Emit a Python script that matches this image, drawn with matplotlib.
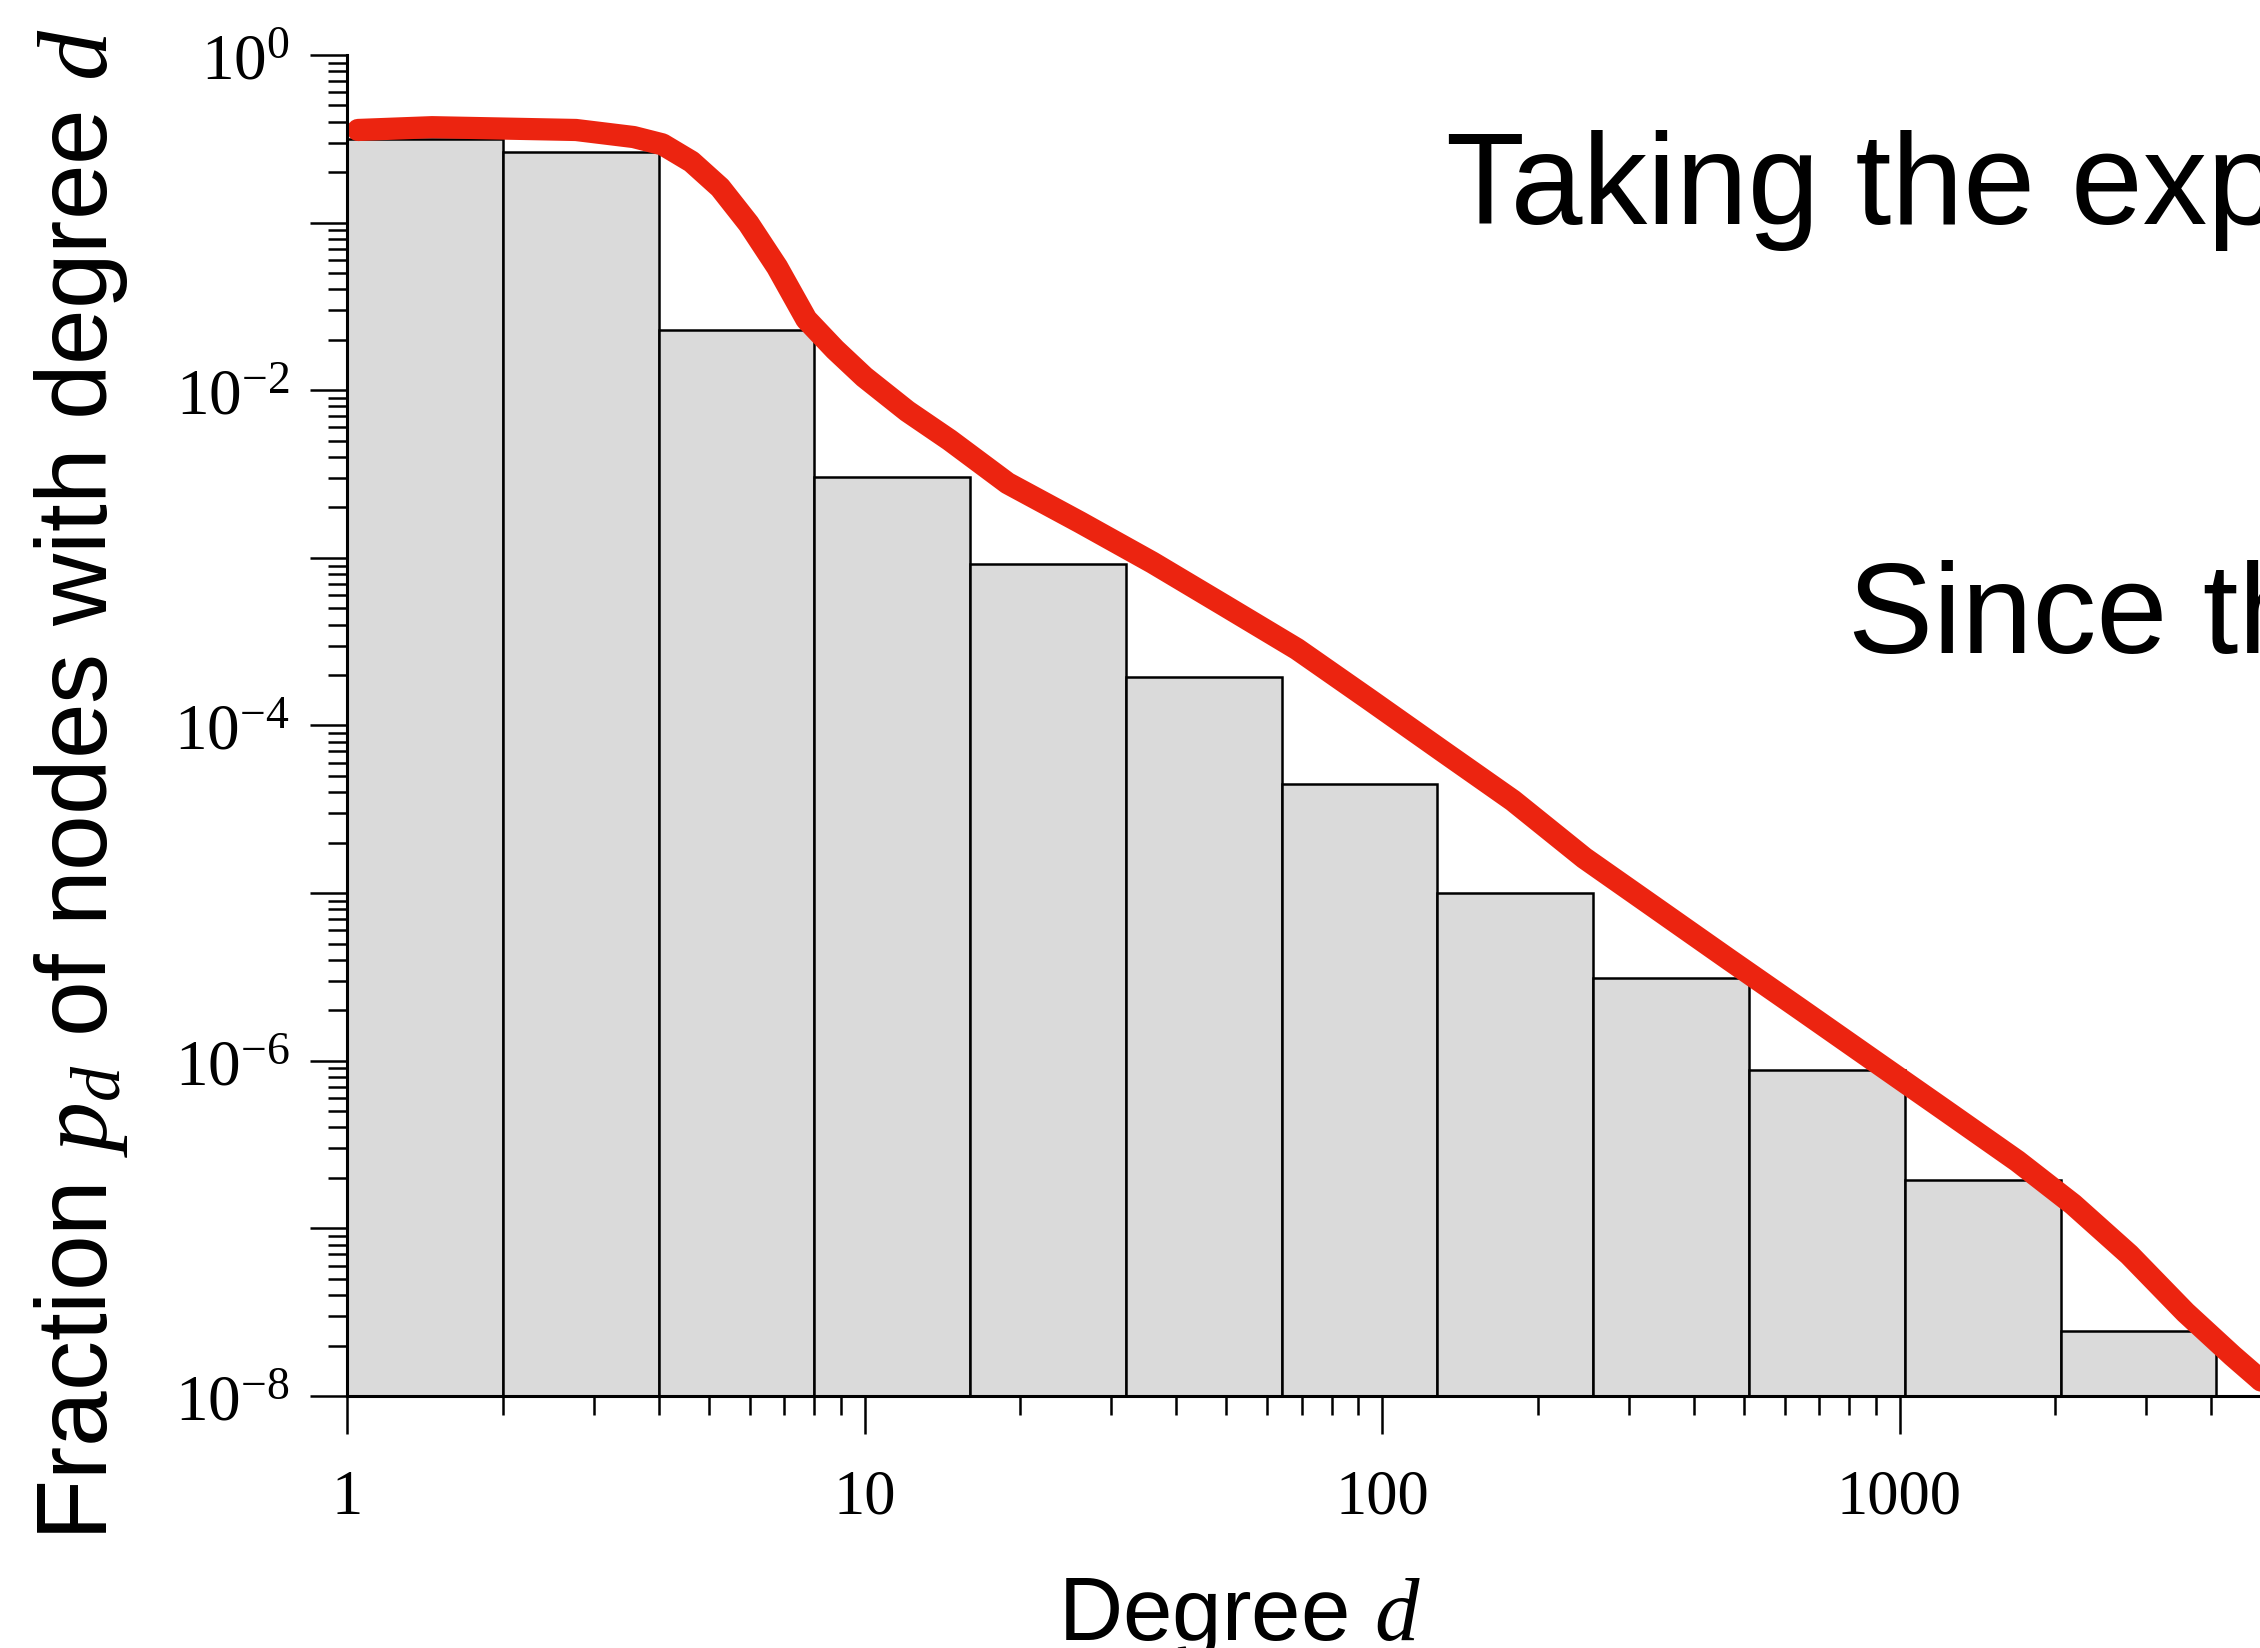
import numpy as np
import matplotlib
matplotlib.use("Agg")
import matplotlib.pyplot as plt
from matplotlib.ticker import LogLocator, FixedLocator, NullFormatter, FuncFormatter

plt.rcParams['font.family'] = ['Liberation Sans', 'DejaVu Sans']
plt.rcParams['mathtext.fontset'] = 'custom'
plt.rcParams['mathtext.rm'] = 'Liberation Serif'
plt.rcParams['mathtext.it'] = 'Liberation Serif:italic'

# histogram bins (powers of two) and bar heights
bin_edges = [1, 2, 4, 8, 16, 32, 64, 128, 256, 512, 1024, 2048, 4096]
bar_heights = [0.317, 0.265, 0.0228, 0.00302, 9.2e-4, 1.96e-4, 4.5e-5,
               1.0e-5, 3.1e-6, 8.8e-7, 1.95e-7, 2.44e-8]

# red curve
curve_d = [1.05, 1.46, 2.01, 2.77, 3.58, 4.07, 4.63, 5.26, 5.97, 6.78, 7.72,
           8.77, 9.99, 12.1, 14.6, 18.9, 26.1, 36.0, 49.7, 68.5, 94.5, 130,
           179, 246, 339, 467, 645, 889, 1226, 1690, 2165, 2780, 3570, 4400,
           4920, 5600]
curve_p = [0.357, 0.371, 0.364, 0.357, 0.324, 0.293, 0.231, 0.162, 0.0986,
           0.0543, 0.0265, 0.0175, 0.0120, 0.0075, 0.00505, 0.00279, 0.00163,
           9.38e-4, 5.18e-4, 2.86e-4, 1.43e-4, 7.14e-5, 3.57e-5, 1.62e-5,
           8.09e-6, 4.04e-6, 2.02e-6, 1.01e-6, 5.05e-7, 2.52e-7, 1.39e-7,
           6.97e-8, 3.15e-8, 1.74e-8, 1.29e-8, 9.0e-9]

x_major = [1, 10, 100, 1000]
x_labels = ["1", "10", "100", "1000"]

W, H = 2260, 1648
fig = plt.figure(figsize=(W / 100, H / 100), dpi=100)
left, right, bottom, top = 347, 2300, 1396, 55
ax = fig.add_axes([left / W, 1 - bottom / H, (right - left) / W, (bottom - top) / H])

lefts = bin_edges[:-1]
widths = [b - a for a, b in zip(bin_edges[:-1], bin_edges[1:])]
ax.bar(lefts, [h - 1e-9 for h in bar_heights], width=widths, bottom=1e-9, align='edge',
       color='#dadada', edgecolor='black', linewidth=1.8, zorder=2)

red = '#ec2410'
ax.plot(curve_d, curve_p, color=red, linewidth=16, solid_capstyle='round',
        solid_joinstyle='round', zorder=3)
ax.plot(curve_d, [p * 1.08 for p in curve_p], color=red, linewidth=6,
        solid_capstyle='round', zorder=3)
ax.plot(curve_d, [p * 0.93 for p in curve_p], color=red, linewidth=6,
        solid_capstyle='round', zorder=3)

ax.set_xscale('log')
ax.set_yscale('log')
ax.set_xlim(1, 10 ** ((right - left) / 517.5))
ax.set_ylim(1e-8, 1)

ax.spines['top'].set_visible(False)
ax.spines['right'].set_visible(False)
for s in ['left', 'bottom']:
    ax.spines[s].set_linewidth(2.2)
    ax.spines[s].set_zorder(4)

ax.xaxis.set_major_locator(FixedLocator(x_major))
ax.xaxis.set_major_formatter(FuncFormatter(lambda v, pos: x_labels[x_major.index(v)] if v in x_major else ""))
ax.xaxis.set_minor_locator(LogLocator(base=10, subs=np.arange(2, 10), numticks=20))
ax.xaxis.set_minor_formatter(NullFormatter())


def ylab(v, pos):
    e = int(round(np.log10(v)))
    if e % 2 == 0:
        return r'$\mathrm{10^{%d}}$' % e
    return ""


ax.yaxis.set_major_locator(LogLocator(base=10, subs=(1.0,), numticks=20))
ax.yaxis.set_major_formatter(FuncFormatter(ylab))
ax.yaxis.set_minor_locator(LogLocator(base=10, subs=np.arange(2, 10), numticks=20))
ax.yaxis.set_minor_formatter(NullFormatter())

ax.tick_params(which='major', direction='out', length=27, width=1.8)
ax.tick_params(which='minor', direction='out', length=13.5, width=1.8)
ax.tick_params(axis='x', which='major', pad=26)
ax.tick_params(axis='y', which='major', pad=14)
for lab in ax.get_xticklabels():
    lab.set_fontfamily('Liberation Serif')
    lab.set_fontsize(45)
for lab in ax.get_yticklabels():
    lab.set_fontsize(47)

fig.text(1239 / W, 1 - 1640 / H, r'Degree $d$', fontsize=64, ha='center', va='baseline')
fig.text(130 / W, 1 - 785 / H, r'Fraction $p_d$ of nodes with degree $d$', fontsize=72,
         rotation=90, ha='right', va='center')

fig.text(1446 / W, 1 - 224 / H, 'Taking the exponent', fontsize=93, ha='left', va='baseline')
fig.text(1848 / W, 1 - 653 / H, 'Since the', fontsize=92, ha='left', va='baseline')

fig.savefig('out.png', dpi=100)
